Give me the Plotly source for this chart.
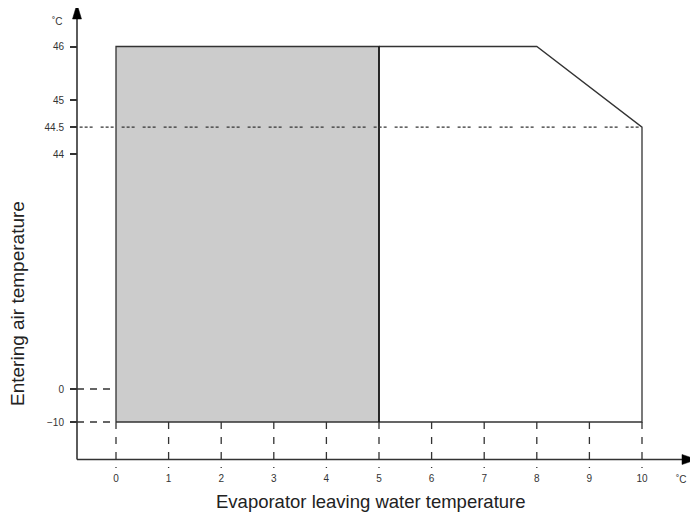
import numpy as np
import plotly.graph_objects as go

# ---------------- data ----------------
x_ticks = [0, 1, 2, 3, 4, 5, 6, 7, 8, 9, 10]
x_tick_labels = ["0", "1", "2", "3", "4", "5", "6", "7", "8", "9", "10"]
y_ticks = [-10, 0, 44, 44.5, 45, 46]
y_tick_labels = ["\u221210", "0", "44", "44.5", "45", "46"]

# shaded zone (evaporator leaving water temp, entering air temp)
shaded_x = [0, 0, 5, 5, 0]
shaded_y = [-10, 46, 46, -10, -10]

# operating envelope outline beyond the shaded zone
envelope_x = [5, 8, 10, 10, 5]
envelope_y = [46, 46, 44.5, -10, -10]

limit_line_y = 44.5          # dotted limit
guide_y = [0, -10]           # horizontal dashed guides

x_title = "Evaporator leaving water temperature"
y_title = "Entering air temperature"
unit = "\u02daC"

# ---------------- broken y scale (piecewise linear) ----------------
Y_BREAK_VALUES = [-10, 0, 44, 46]
Y_BREAK_UNITS = [0, 33, 268, 375.5]


def ys(v):
    return np.interp(np.asarray(v, dtype=float), Y_BREAK_VALUES, Y_BREAK_UNITS)


# ---------------- layout geometry (screen pixels) ----------------
SCREEN_W, SCREEN_H = 698, 516
OFF = 8                           # page body margin
W, H = SCREEN_W - OFF, SCREEN_H - OFF
X0_PX, X_PER_PX = 116, 52.6       # screen pixel of x=0, pixels per unit
YM10_PX = 422                     # screen row of y=-10
YAXIS_PX, XAXIS_PX = 77, 459.5    # axis line positions


def px_x(sx):
    return (sx - OFF) / W


def px_y(sy):
    return (H - (sy - OFF)) / H


x_range = [(OFF - X0_PX) / X_PER_PX, (SCREEN_W - X0_PX) / X_PER_PX]
y_range = [YM10_PX - SCREEN_H, YM10_PX - OFF]
x_axis_data = (YAXIS_PX - X0_PX) / X_PER_PX
below_axis_units = YM10_PX - 468

LINE = "#333333"
FONT = "Liberation Sans, Arial, Helvetica, sans-serif"

fig = go.Figure()

# shaded zone
fig.add_trace(go.Scatter(
    x=shaded_x, y=ys(shaded_y), mode="lines", fill="toself",
    fillcolor="#cccccc", line=dict(color=LINE, width=1.3),
    hoverinfo="skip", showlegend=False))

# envelope outline
fig.add_trace(go.Scatter(
    x=envelope_x, y=ys(envelope_y), mode="lines",
    line=dict(color=LINE, width=1.3), hoverinfo="skip", showlegend=False))

# right edge of shaded zone drawn darker
fig.add_trace(go.Scatter(
    x=[shaded_x[2], shaded_x[3]], y=ys([shaded_y[2], shaded_y[3]]), mode="lines",
    line=dict(color="#111111", width=1.5), hoverinfo="skip", showlegend=False))

# dotted limit line at 44.5
fig.add_trace(go.Scatter(
    x=[x_axis_data + 0.05, envelope_x[2]], y=ys([limit_line_y, limit_line_y]),
    mode="lines", line=dict(color=LINE, width=1.3, dash="3px,2px,3px,2px,3px,8px"),
    hoverinfo="skip", showlegend=False))

# horizontal dashed guides
for gy in guide_y:
    fig.add_trace(go.Scatter(
        x=[x_axis_data, x_ticks[0]], y=ys([gy, gy]), mode="lines",
        line=dict(color=LINE, width=1.3, dash="7px,6px"),
        hoverinfo="skip", showlegend=False))

# vertical dashed guides
for gx in x_ticks:
    fig.add_trace(go.Scatter(
        x=[gx, gx], y=[float(ys(-10)), below_axis_units], mode="lines",
        line=dict(color=LINE, width=1.3, dash="7px,8px"),
        hoverinfo="skip", showlegend=False))

# axis lines and arrowheads
shapes = [
    dict(type="line", xref="paper", yref="paper", x0=px_x(YAXIS_PX), x1=px_x(YAXIS_PX),
         y0=px_y(XAXIS_PX), y1=px_y(12), line=dict(color=LINE, width=1.6)),
    dict(type="line", xref="paper", yref="paper", x0=px_x(YAXIS_PX), x1=px_x(686),
         y0=px_y(XAXIS_PX), y1=px_y(XAXIS_PX), line=dict(color=LINE, width=1.6)),
    dict(type="path", xref="paper", yref="paper", xsizemode="pixel", ysizemode="pixel",
         xanchor=px_x(YAXIS_PX), yanchor=px_y(4),
         path="M 0,0 L -4.5,-15 L 4.5,-15 Z", fillcolor="#000000",
         line=dict(color="#000000", width=0.5)),
    dict(type="path", xref="paper", yref="paper", xsizemode="pixel", ysizemode="pixel",
         xanchor=px_x(697), yanchor=px_y(XAXIS_PX),
         path="M 0,0 L -15,5 L -15,-5 Z", fillcolor="#000000",
         line=dict(color="#000000", width=0.5)),
]

annotations = [
    dict(text=unit, xref="paper", yref="paper", x=px_x(57), y=px_y(22),
         xanchor="center", yanchor="middle",
         showarrow=False, font=dict(size=10, color="#333333", family=FONT)),
    dict(text=unit, xref="paper", yref="paper", x=px_x(681), y=px_y(479),
         xanchor="center", yanchor="middle",
         showarrow=False, font=dict(size=10, color="#333333", family=FONT)),
    dict(text=x_title, xref="paper", yref="paper", x=px_x(371), y=px_y(501),
         xanchor="center", yanchor="middle",
         showarrow=False, font=dict(size=18.5, color="#222222", family=FONT)),
    dict(text=y_title, xref="paper", yref="paper", x=px_x(17), y=px_y(304),
         xanchor="center", yanchor="middle",
         textangle=-90, showarrow=False, font=dict(size=19, color="#222222", family=FONT)),
]

fig.update_layout(
    width=W, height=H, autosize=False,
    margin=dict(l=0, r=0, t=0, b=0, pad=0),
    paper_bgcolor="white", plot_bgcolor="white",
    showlegend=False,
    font=dict(family=FONT, color="#333333"),
    shapes=shapes, annotations=annotations,
    xaxis=dict(range=x_range, showgrid=False, zeroline=False, showline=False,
               anchor="free", position=px_y(XAXIS_PX),
               tickmode="array", tickvals=x_ticks, ticktext=x_tick_labels,
               ticks="outside", ticklen=9, tickcolor="rgba(0,0,0,0)",
               tickfont=dict(size=10, color="#333333", family=FONT)),
    yaxis=dict(range=y_range, showgrid=False, zeroline=False, showline=False,
               anchor="free", position=px_x(YAXIS_PX),
               tickmode="array", tickvals=list(ys(y_ticks)), ticktext=y_tick_labels,
               ticks="outside", ticklen=7, tickwidth=1.5, tickcolor=LINE,
               ticklabelstandoff=4,
               tickfont=dict(size=10, color="#333333", family=FONT)),
)

fig.write_html("out.html")
